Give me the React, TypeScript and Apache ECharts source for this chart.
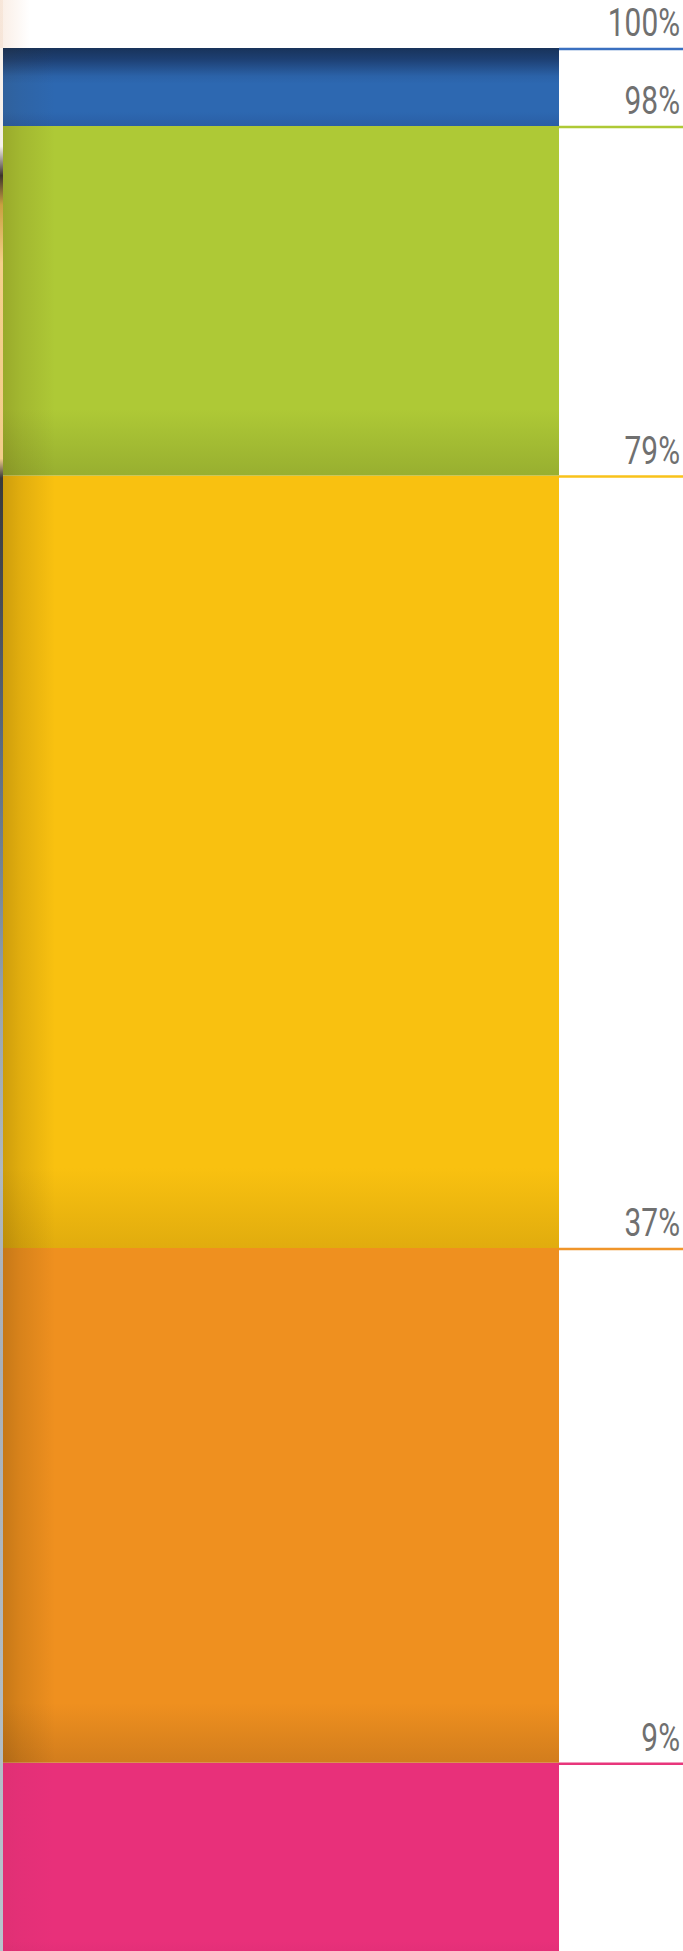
import React, { useEffect, useRef } from 'react';
import * as echarts from 'echarts';

// ---- data ----
const categories = ['Share'];
const cumulativeValues = [9, 37, 79, 98, 100];
const valueLabels = ['9%', '37%', '79%', '98%', '100%'];

// ---- styles ----
const segmentColors = ['#E8307A', '#EF901F', '#F9C110', '#AEC936', '#2D68B1'];
const bottomShadeColors = ['#E42F78', '#D27D1D', '#E1AC0E', '#98AF30', '#2A5EA5'];
const bottomShadeDepth = [10, 60, 80, 66, 14];
const lineColors = ['#E8367C', '#F0952A', '#F9C21A', '#AEC936', '#3A70C0'];
const leftShadeAlpha = [0.05, 0.24, 0.24, 0.2, 0.12];

const W = 683;
const H = 1951;

export default function App() {
  const ref = useRef<HTMLDivElement>(null);

  useEffect(() => {
    if (!ref.current) return;
    const chart = echarts.init(ref.current, undefined, { renderer: 'svg' });
    const n = cumulativeValues.length;
    const data = cumulativeValues.map((v, i) => [0, i === 0 ? 0 : cumulativeValues[i - 1], v]);

    const renderItem = (params: any, api: any) => {
      const cs = params.coordSys;
      const i = params.dataIndex;
      const cat = api.value(0);
      const lower = api.value(1);
      const upper = api.value(2);
      const topPt = api.coord([cat, upper]);
      const bw = api.size([1, 0])[0];
      const x0 = topPt[0] - bw / 2;
      const yTop = i === n - 1 ? cs.y : topPt[1];
      const yBot = i === 0 ? cs.y + cs.height : api.coord([cat, lower])[1];
      const h = yBot - yTop;
      const main = segmentColors[i];
      const dark = bottomShadeColors[i];
      const d = Math.min(0.9, bottomShadeDepth[i] / h);
      let stops: any[];
      if (i === n - 1) {
        stops = [
          { offset: 0, color: '#18335A' },
          { offset: 0.14, color: '#1D3F72' },
          { offset: 0.36, color: '#2B62A8' },
          { offset: 0.46, color: main },
          { offset: 1 - d, color: main },
          { offset: 1, color: dark },
        ];
      } else {
        stops = [
          { offset: 0, color: main },
          { offset: 1 - d, color: main },
          { offset: 1, color: dark },
        ];
      }
      const a = leftShadeAlpha[i];
      return {
        type: 'group',
        children: [
          {
            type: 'rect',
            shape: { x: x0, y: yTop, width: bw, height: h },
            style: {
              fill: { type: 'linear', x: 0, y: 0, x2: 0, y2: 1, colorStops: stops },
            },
          },
          {
            type: 'rect',
            shape: { x: x0, y: yTop, width: 52, height: h },
            style: {
              fill: {
                type: 'linear', x: 0, y: 0, x2: 1, y2: 0,
                colorStops: [
                  { offset: 0, color: `rgba(70,45,0,${a})` },
                  { offset: 0.35, color: `rgba(70,45,0,${a * 0.55})` },
                  { offset: 1, color: 'rgba(70,45,0,0)' },
                ],
              },
            },
          },
          {
            type: 'line',
            shape: { x1: x0 + bw, y1: yTop + 1, x2: W, y2: yTop + 1 },
            style: { stroke: lineColors[i], lineWidth: 2.5 },
          },
          {
            type: 'text',
            x: 680,
            y: yTop - 25,
            scaleX: 0.765,
            style: {
              text: valueLabels[i],
              x: 0,
              y: 0,
              align: 'right',
              verticalAlign: 'middle',
              fill: '#707070',
              fontSize: 39,
              fontFamily: 'Roboto',
            },
          },
        ],
      };
    };

    chart.setOption({
      animation: false,
      backgroundColor: '#FFFFFF',
      grid: { left: 3, right: 124, top: 48, bottom: 0 },
      xAxis: { type: 'category', data: categories, show: false },
      yAxis: { type: 'value', min: -1.23, max: 102.24, show: false },
      graphic: [
        {
          type: 'rect',
          shape: { x: 0, y: 0, width: 3, height: H },
          style: {
            fill: {
              type: 'linear', x: 0, y: 0, x2: 0, y2: 1,
              colorStops: [
                { offset: 0, color: '#FBF3EC' },
                { offset: 0.075, color: '#F5F0EA' },
                { offset: 0.09, color: '#3E342C' },
                { offset: 0.105, color: '#C9A040' },
                { offset: 0.135, color: '#F4CF8A' },
                { offset: 0.235, color: '#F2CD8C' },
                { offset: 0.245, color: '#3A3A3A' },
                { offset: 0.31, color: '#4A4D55' },
                { offset: 0.38, color: '#5A6A80' },
                { offset: 0.46, color: '#7A8A9A' },
                { offset: 0.52, color: '#9AA5AF' },
                { offset: 0.6, color: '#B0B8BE' },
                { offset: 0.7, color: '#A8B0B8' },
                { offset: 1, color: '#B8C4CC' },
              ],
            },
          },
        },
        {
          type: 'rect',
          shape: { x: 0, y: 0, width: 30, height: 48 },
          style: {
            fill: {
              type: 'linear', x: 0, y: 0, x2: 1, y2: 0,
              colorStops: [
                { offset: 0, color: 'rgba(240,205,180,0.35)' },
                { offset: 1, color: 'rgba(240,205,180,0)' },
              ],
            },
          },
        },
      ],
      series: [
        {
          type: 'custom',
          renderItem,
          data,
          encode: { x: 0, y: [1, 2] },
        },
      ],
    });
    return () => chart.dispose();
  }, []);

  return (
    <div
      ref={ref}
      style={{ position: 'absolute', left: 0, top: 0, width: W, height: H }}
    />
  );
}
